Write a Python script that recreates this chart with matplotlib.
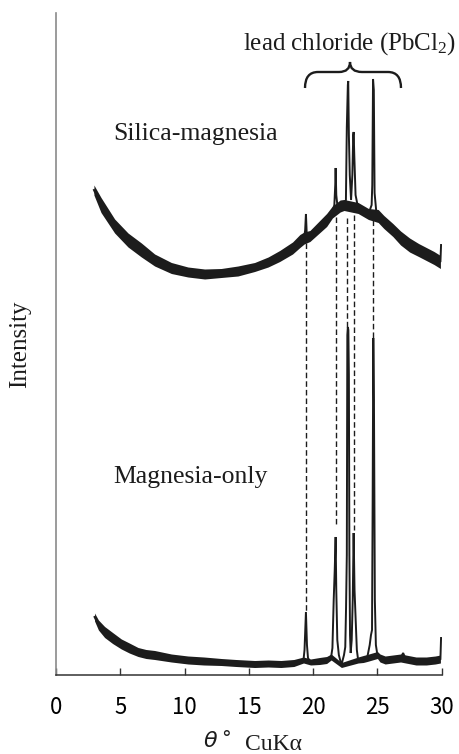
import matplotlib
matplotlib.use('Agg')
import matplotlib.pyplot as plt
import numpy as np
from matplotlib.path import Path
from matplotlib.patches import PathPatch

plt.rcParams['mathtext.fontset'] = 'custom'
plt.rcParams['mathtext.rm'] = 'Liberation Serif'
plt.rcParams['mathtext.it'] = 'Liberation Serif:italic'

# ---------------- data (theta in degrees, intensity in arbitrary units) ----------------
# Silica-magnesia trace
sm_theta = [2.95, 3.5, 4.56, 5.6, 6.64, 7.67, 8.97, 10.26, 11.56, 12.85, 14.15, 15.45, 16.5,
            17.4, 18.4, 18.97, 19.3, 19.38, 19.44, 19.5, 19.6, 19.75, 20.4, 21.05, 21.5, 21.65,
            21.72, 21.75, 21.8, 21.9, 22.1, 22.4, 22.55, 22.62, 22.7, 22.73, 22.78, 22.85, 22.95,
            23.05, 23.12, 23.15, 23.2, 23.3, 23.5, 23.9, 24.3, 24.55, 24.6, 24.66, 24.72, 24.78,
            24.9, 25.06, 25.5, 26.2, 26.8, 27.5, 28.2, 28.8, 29.4, 29.9, 29.95]
sm_int = [485, 470, 449, 435, 425, 415, 407, 403, 401, 402, 404, 408, 413,
          419, 427, 434, 437, 445, 461, 442, 439, 439, 447, 455, 463, 470,
          490, 507, 480, 468, 469, 470, 475, 548, 590, 594, 540, 500, 475,
          500, 540, 543, 520, 480, 467, 464, 461, 470, 490, 596, 585, 482,
          465, 459, 453, 445, 437, 430, 425, 421, 417, 413, 430]
# Silica-magnesia noise band (background centre and band thickness)
sm_bg_theta = [2.95, 3.5, 4.56, 5.6, 6.64, 7.67, 8.97, 10.26, 11.56, 12.85, 14.15, 15.45, 16.5,
               17.4, 18.4, 18.97, 19.3, 19.75, 20.4, 21.05, 21.5, 22.1, 22.4, 23.5, 23.9, 24.3,
               25.06, 25.5, 26.2, 26.8, 27.5, 28.2, 28.8, 29.4, 29.9]
sm_bg_int = [485, 470, 449, 435, 425, 415, 407, 403, 401, 402, 404, 408, 413,
             419, 427, 434, 437, 439, 447, 455, 463, 469, 470, 467, 464, 461,
             459, 453, 445, 437, 430, 425, 421, 417, 413]
sm_bg_width = [10, 15, 14, 14, 14, 12, 11, 10, 10, 9, 10, 9, 10,
               11, 12, 13, 12, 11, 12, 13, 12, 12, 11, 11, 11, 11,
               13, 13, 13, 14, 14, 13, 13, 13, 13]

# Magnesia-only trace
mo_theta = [3.0, 3.3, 3.78, 4.4, 5.08, 5.7, 6.38, 7.0, 7.67, 8.97, 10.26, 11.5, 12.85, 14.0,
            15.45, 16.5, 17.5, 18.5, 19.0, 19.25, 19.33, 19.44, 19.52, 19.6, 19.8, 20.5, 21.05,
            21.4, 21.5, 21.6, 21.68, 21.75, 21.8, 21.88, 22.0, 22.2, 22.4, 22.5, 22.56, 22.62,
            22.66, 22.7, 22.74, 22.78, 22.82, 22.87, 22.92, 23.0, 23.08, 23.15, 23.22, 23.3, 23.4,
            23.5, 23.9, 24.2, 24.4, 24.5, 24.58, 24.63, 24.68, 24.73, 24.8, 24.88, 25.0, 25.2,
            25.6, 26.2, 26.8, 27.0, 27.2, 28.0, 28.8, 29.5, 29.9, 29.95]
mo_int = [58, 50, 43, 37, 31, 27, 23, 21, 20, 17, 15, 14, 13, 12,
          11, 11.5, 11, 12, 13, 15, 25, 63, 30, 17, 13, 14, 15,
          18, 27, 75, 105, 138, 85, 35, 20, 10, 20, 28, 67, 120,
          340, 348, 345, 300, 120, 40, 22, 35, 75, 142, 85, 58, 25,
          15, 16, 17, 30, 40, 45, 175, 337, 275, 75, 30, 20, 17,
          15, 16, 17, 22, 16, 14, 14, 15, 16, 37]
mo_bg_theta = [3.0, 3.3, 3.78, 4.4, 5.08, 5.7, 6.38, 7.0, 7.67, 8.97, 10.26, 11.5, 12.85, 14.0,
               15.45, 16.5, 17.5, 18.5, 19.25, 19.8, 20.5, 21.05, 21.4, 22.2, 23.5, 23.9, 24.2,
               25.0, 25.2, 25.6, 26.2, 26.8, 27.2, 28.0, 28.8, 29.5, 29.9]
mo_bg_int = [58, 50, 43, 37, 31, 27, 23, 21, 20, 17, 15, 14, 13, 12,
             11, 11.5, 11, 12, 15, 13, 14, 15, 18, 10, 15, 16, 17,
             20, 17, 15, 16, 17, 16, 14, 14, 15, 16]
mo_bg_width = [8, 10, 11, 11, 10, 10, 9, 9, 9, 8, 8, 8, 7, 7,
               7, 7, 7, 7, 6, 6, 7, 7, 6, 5, 6, 7, 7,
               7, 8, 8, 8, 8, 8, 8, 8, 8, 8]

# dashed guide lines linking the PbCl2 reflections
guide_theta = [19.44, 21.75, 22.65, 23.17, 24.68]
guide_top = [432, 458, 457, 460, 455]
guide_bottom = [63, 148, 348, 145, 337]

xtick_vals = [0, 5, 10, 15, 20, 25, 30]

# ---------------- figure ----------------
W, H = 460, 754
fig = plt.figure(figsize=(W / 100, H / 100), dpi=100)
ax_l, ax_r, ax_t, ax_b = 56, 441.7, 13, 675
ax = fig.add_axes([ax_l / W, (H - ax_b) / H, (ax_r - ax_l) / W, (ax_b - ax_t) / H])
ax.set_xlim(0, 30)
ax.set_ylim(0, ax_b - ax_t)

ink = '#1c1c1c'

def band(th, c, w):
    c = np.asarray(c, float)
    w = np.asarray(w, float)
    ax.fill_between(th, c - w / 2, c + w / 2, color=ink, lw=0)

band(sm_bg_theta, sm_bg_int, sm_bg_width)
band(mo_bg_theta, mo_bg_int, mo_bg_width)
ax.plot(sm_theta, sm_int, color=ink, lw=1.4, solid_joinstyle='miter')
ax.plot(mo_theta, mo_int, color=ink, lw=1.4, solid_joinstyle='miter')

for t, y0, y1 in zip(guide_theta, guide_top, guide_bottom):
    ax.plot([t, t], [y0, y1], color=ink, lw=1.0, linestyle=(0, (4, 2.2)))

# brace (pixel geometry converted to data)
def px2d(px, py):
    return ((px - ax_l) / (ax_r - ax_l) * 30, ax_b - py)

bx = [(305, 88), (305, 72), (318, 72), (339, 72), (350, 72), (350, 62),
      (350, 72), (362, 72), (388, 72), (401, 72), (401, 88)]
verts = [px2d(*p) for p in bx]
codes = [Path.MOVETO, Path.CURVE3, Path.CURVE3, Path.LINETO, Path.CURVE3, Path.CURVE3,
         Path.CURVE3, Path.CURVE3, Path.LINETO, Path.CURVE3, Path.CURVE3]
ax.add_patch(PathPatch(Path(verts, codes), fill=False, lw=1.7, color=ink, capstyle='butt'))

serif = 'Liberation Serif'
ax.text(*px2d(243, 50), 'lead chloride (PbCl$_{2}$)', fontsize=18, family=serif,
        ha='left', va='baseline', color=ink)
ax.text(*px2d(113, 140), 'Silica-magnesia', fontsize=18.5, family=serif,
        ha='left', va='baseline', color=ink)
ax.text(*px2d(113, 483), 'Magnesia-only', fontsize=18.5, family=serif,
        ha='left', va='baseline', color=ink)

# axes styling
for s in ('top', 'right'):
    ax.spines[s].set_visible(False)
ax.spines['left'].set_color('#8a8a8a')
ax.spines['left'].set_linewidth(1.2)
ax.spines['bottom'].set_color('#333333')
ax.spines['bottom'].set_linewidth(1.1)
ax.set_yticks([])
ax.set_xticks(xtick_vals)
ax.set_xticklabels([str(v) for v in xtick_vals], family='Noto Sans CJK JP', fontsize=16)
ax.tick_params(axis='x', direction='in', length=5, width=1, color='#333333', pad=15)

# axis titles
fig.text(20 / W, 1 - 344 / H, 'Intensity', rotation=90, ha='center', va='center',
         fontsize=18, family=serif, color=ink)
fig.text(210 / W, 1 - 741 / H, 'θ', ha='center', va='center', fontsize=16,
         family='DejaVu Sans', style='italic', color=ink)
fig.text(226 / W, 1 - 738 / H, '°', ha='center', va='center', fontsize=14,
         family='DejaVu Sans', color=ink)
fig.text(245 / W, 1 - 744 / H, 'CuKα', ha='left', va='center', fontsize=17,
         family=serif, color=ink)

fig.savefig('out.png', dpi=100)
